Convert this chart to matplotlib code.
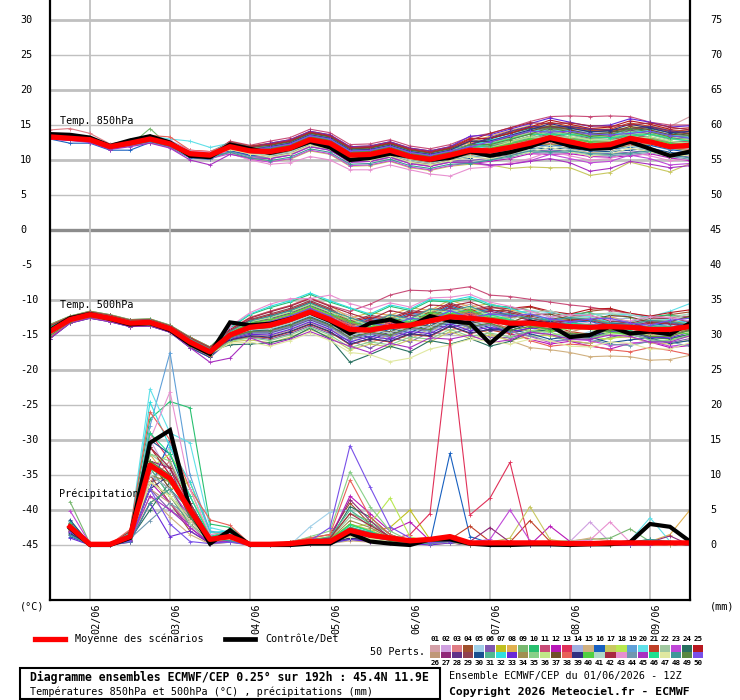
import matplotlib
matplotlib.use("Agg")
import matplotlib.pyplot as plt
from matplotlib.patches import Rectangle
from matplotlib.lines import Line2D

plt.rcParams['font.family'] = ['DejaVu Sans Mono', 'DejaVu Sans']

# ---------------- data ----------------
hours_temp = list(range(12, 205, 6))      # 01/06 12Z .. 09/06 12Z (hours from 01/06 00Z)
hours_rain = list(range(18, 205, 6))
day_hours = [24, 48, 72, 96, 120, 144, 168, 192]
day_labels = ['02/06', '03/06', '04/06', '05/06', '06/06', '07/06', '08/06', '09/06']

member_colors = ['#d4a0a8', '#d0a0e0', '#e07c84', '#a0502c', '#a0d0e8', '#8058b0', '#c0c020', '#e0b050',
                 '#78b870', '#28c070', '#c84c78', '#b818b8', '#e03058', '#a0b0e0', '#d0b080', '#1860c0',
                 '#c8c860', '#b8e850', '#60a0d8', '#60e0e8', '#c04028', '#a0c8a0', '#c048d8', '#287060',
                 '#b81820', '#c09878', '#902878', '#603088', '#904050', '#185090', '#50b890', '#30e0e0',
                 '#6828d8', '#a09050', '#88d088', '#c0e888', '#705028', '#e86058', '#303080', '#50d040',
                 '#b0d8c8', '#a82840', '#e890d0', '#7098b0', '#a830c0', '#20e090', '#e0e8a0', '#409898',
                 '#588840', '#7850e8']

t850_mean = [13.3, 13.1, 12.9, 11.9, 12.4, 13.0, 12.3, 10.9, 10.7, 11.9, 11.3, 11.2, 11.7, 12.9, 12.4, 10.7, 10.8,
             11.4, 10.5, 10.1, 10.7, 11.4, 11.3, 11.8, 12.4, 13.2, 12.6, 12.0, 12.2, 13.1, 12.6, 11.9, 12.1]
t850_ctrl = [13.7, 13.6, 13.2, 12.0, 12.8, 13.4, 12.5, 10.6, 10.4, 12.2, 11.6, 11.0, 11.6, 12.6, 11.8, 10.0, 10.3,
             10.9, 10.5, 10.0, 10.3, 11.2, 10.6, 11.1, 11.9, 12.9, 12.0, 11.6, 11.7, 12.6, 11.6, 10.6, 11.2]
t500_mean = [-14.5, -12.8, -12.1, -12.6, -13.3, -13.2, -14.1, -16.0, -17.4, -15.0, -13.9, -13.6, -12.8, -11.7,
             -12.8, -14.2, -14.3, -13.8, -13.6, -13.0, -12.4, -12.6, -12.9, -13.3, -13.3, -13.6, -13.8, -13.9,
             -13.8, -13.9, -14.2, -14.2, -13.8]
t500_ctrl = [-14.3, -12.6, -12.0, -12.7, -13.5, -13.3, -14.3, -16.3, -17.7, -13.2, -13.6, -13.4, -12.7, -11.8,
             -13.0, -14.8, -13.3, -12.8, -13.8, -12.3, -13.0, -13.3, -16.2, -13.8, -13.1, -13.6, -15.3, -15.0,
             -13.8, -14.8, -14.5, -14.9, -13.3]
rain_mean = [2.6, 0.1, 0.1, 1.2, 11.4, 9.5, 5.0, 0.8, 1.2, 0.1, 0.1, 0.2, 0.5, 0.5, 2.1, 1.4, 1.0, 0.6, 0.8,
             1.2, 0.3, 0.3, 0.3, 0.3, 0.3, 0.2, 0.2, 0.3, 0.3, 0.3, 0.3, 0.3]
rain_ctrl = [2.4, 0, 0, 1.0, 14.6, 16.4, 5.0, 0.2, 2.1, 0, 0, 0, 0.2, 0.2, 1.7, 0.5, 0.2, 0, 0.8,
             0.8, 0.2, 0, 0, 0.1, 0.1, 0, 0.1, 0.1, 0.4, 3.0, 2.6, 0.5]

t850_members = [
    [13.5,13.2,13.1,12.1,12.6,13.3,12.6,11.2,11.0, 12.3,11.7,11.7,12.2,13.4,12.9,11.2,11.3, 11.9,11.0,10.6,11.2,12.0,12.0,12.6,13.3, 14.2,13.6,13.0,13.2,14.1,13.6,14.8,16.2],
    [13.6,13.4,13.2,12.2,12.8,13.5,12.8,11.4,11.2, 12.2,11.6,11.4,11.9,13.1,12.6,10.9,11.0, 11.6,10.8,10.4,11.0, 11.5,12.2,13.0,13.7,13.6,13.7,13.3,13.2,13.4,13.7,13.1,12.7],
    [14.3,14.5,13.8,12.3,12.8,13.4,12.7,11.4,11.2, 12.5,12.0,12.0,12.5,13.7,13.2,11.5,11.6, 12.2,11.3,10.9,11.5,12.5,12.5,13.2,14.0, 14.7,14.1,13.5,13.7,14.6,14.1,13.4,13.6],
    [13.2,13.0,12.8,11.8,12.2,12.8,12.1,10.7,10.5, 12.1,11.5,11.8,12.3,13.5,13.0,11.3,11.4, 12.0,11.1,10.7,11.3, 12.2,13.1,14.0,14.7,14.6,14.7,14.3,14.2,14.4,14.7,14.1,13.7],
    [13.3,13.0,12.9,11.9,12.4,13.0,12.3,10.9,10.7, 11.8,11.1,10.9,11.4,12.6,12.1,10.4,10.5, 11.1,10.2,9.8,10.4,11.0,10.9,11.4,11.9, 12.7,12.1,11.5,11.7,12.6,12.1,11.4,11.6],
    [13.1,13.0,12.7,11.7,12.2,12.7,12.0,10.6,10.4, 11.4,10.7,10.4,10.9,12.1,11.6,9.9,10.0, 10.6,9.7,9.3,9.9, 9.9,10.3,10.7,11.4,11.3,11.4,11.0,10.9,11.1,11.4,10.8,10.4],
    [13.4,13.2,13.0,12.0,12.6,13.2,12.5,11.1,10.9, 12.2,11.6,11.6,12.1,13.3,12.8,11.1,11.2, 11.8,10.9,10.5,11.1,11.8,11.7,12.1,12.7, 13.5,12.9,12.3,12.5,13.4,12.9,12.2,12.4],
    [13.3,13.1,12.9,11.9,12.4,13.0,12.3,10.9,10.7, 12.4,11.8,12.2,12.7,13.9,13.4,11.7,11.8, 12.4,11.5,11.1,11.7, 12.5,13.4,14.2,14.9,14.8,14.9,14.5,14.4,14.6,14.9,14.3,13.9],
    [13.1,12.9,12.7,11.6,12.1,14.5,11.9,10.5,10.3, 11.4,10.8,10.7,11.2,12.4,11.9,10.2,10.3, 10.9,10.0,9.6,10.2,11.4,11.4,12.0,12.8, 13.7,13.1,12.5,12.7,13.6,13.1,12.4,12.6],
    [13.5,13.3,13.1,12.1,12.6,13.3,12.6,11.2,11.0, 12.5,11.9,12.1,12.6,13.8,13.3,11.6,11.7, 12.3,11.4,11.0,11.6, 12.0,12.8,13.4,14.1,14.0,14.1,13.7,13.6,13.8,14.1,13.5,13.1],
    [13.4,13.2,13.0,12.0,12.5,13.1,12.4,11.0,10.8, 12.7,12.1,12.7,13.2,14.4,13.9,12.2,12.3, 12.9,12.0,11.6,12.2,13.3,13.8,14.6,15.5, 16.2,16.3,16.2,16.3,16.2,15.4,15.0,15.0],
    [13.2,13.0,12.8,11.8,12.2,12.8,12.1,10.7,10.5, 11.3,10.6,10.2,10.7,11.9,11.4,9.7,9.8, 10.4,9.5,9.1,9.7, 9.5,9.8,10.2,10.9,10.8,10.9,10.5,10.4,10.6,10.9,10.3,9.9],
    [13.5,13.3,13.1,12.2,12.7,13.4,12.7,11.3,11.1, 12.2,11.6,11.5,12.0,13.2,12.7,11.0,11.1, 11.7,10.8,10.4,11.0,11.8,11.7,12.3,12.9, 13.8,13.2,12.6,12.8,13.7,13.2,12.5,12.7],
    [13.3,13.1,12.8,11.8,12.3,12.9,12.2,10.8,10.6, 11.9,11.3,11.3,11.8,13.0,12.5,10.8,10.9, 11.6,10.8,10.5,11.2, 11.7,12.6,13.6,14.3,14.2,14.3,13.9,13.8,14.0,14.3,13.7,13.3],
    [13.4,13.2,13.0,12.0,12.6,13.2,12.5,11.1,10.9, 11.9,11.2,11.0,11.5,12.7,12.2,10.5,10.6, 11.2,10.3,9.9,10.5,10.8,10.6,10.9,11.4, 12.2,11.6,11.0,11.2,12.1,11.6,10.9,11.1],
    [13.0,12.4,12.4,11.4,11.4,12.5,11.8,10.3,10.1, 11.3,10.7,10.6,11.1,12.3,11.8,10.1,10.2, 10.8,9.9,9.5,10.1, 10.3,10.8,11.4,12.1,12.0,12.1,11.7,11.6,11.8,12.1,11.5,11.1],
    [13.1,12.9,12.7,11.7,12.2,12.7,12.0,10.6,10.4, 11.0,10.2,9.8,10.1,11.3,10.8,9.1,9.2, 9.8,8.9,8.5,9.1,9.4,9.3,8.8,9.0, 8.9,8.9,7.8,8.2,9.7,9.0,8.3,9.5],
    [13.4,13.2,13.0,12.0,12.6,13.2,12.5,11.1,10.9, 12.2,11.7,11.7,12.2,13.4,12.9,11.2,11.3, 11.9,11.0,10.6,11.2, 11.7,12.4,13.1,13.8,13.7,13.8,13.4,13.3,13.5,13.8,13.2,12.8],
    [13.2,13.0,12.8,11.8,12.2,12.8,12.1,10.7,10.5, 11.9,11.3,11.4,11.9,13.1,12.6,10.9,11.0, 11.6,10.7,10.3,10.9,11.4,11.3,11.7,12.2, 12.9,12.3,11.7,11.9,12.8,12.3,11.6,11.8],
    [13.4,13.2,13.1,12.2,12.7,13.4,13.0,12.7,11.8, 12.4,11.8,11.8,12.3,13.5,13.0,11.3,11.4, 12.0,11.1,10.7,11.3, 11.5,12.0,12.6,13.3,13.2,13.3,12.9,12.8,13.0,13.3,12.7,12.3],
    [13.5,13.3,13.1,12.1,12.6,13.3,12.6,11.2,11.0, 12.6,12.0,12.4,12.9,14.1,13.6,11.9,12.0, 12.6,11.7,11.3,11.9,13.1,13.1,13.8,14.6, 15.4,14.8,14.2,14.4,15.3,14.8,14.1,14.3],
    [13.2,13.0,12.8,11.8,12.2,12.8,12.1,10.7,10.5, 11.8,11.2,11.2,11.7,12.9,12.4,10.7,10.8, 11.4,10.5,10.1,10.7, 11.5,12.4,13.2,13.9,13.8,13.9,13.5,13.4,13.6,13.9,13.3,12.9],
    [13.0,12.8,12.6,11.6,12.0,12.5,11.8,10.4,10.2, 10.9,10.1,9.7,10.2,11.4,10.9,9.2,9.3, 9.9,9.0,8.6,9.2,9.6,9.2,9.4,9.9, 10.8,10.2,9.6,9.8,10.7,10.2,9.3,9.5],
    [13.4,13.2,13.0,12.0,12.5,13.1,12.4,11.0,10.8, 12.3,11.7,11.9,12.4,13.6,13.1,11.4,11.5, 12.1,11.2,10.8,11.4, 12.2,13.0,13.8,14.5,14.4,14.5,14.1,14.0,14.2,14.5,13.9,13.5],
    [13.4,13.2,13.0,12.0,12.6,13.2,12.5,11.1,10.9, 12.5,11.9,12.2,12.7,13.9,13.4,11.7,11.8, 12.4,11.5,11.1,11.7,13.0,13.1,13.8,14.7, 15.7,15.1,14.5,14.7,15.6,15.1,14.4,14.6],
    [13.2,13.1,12.8,11.8,12.3,12.9,12.2,10.8,10.6, 11.7,11.0,10.8,11.3,12.5,12.0,10.3,10.4, 11.0,10.1,9.7,10.3, 10.9,11.6,12.4,13.1,13.0,13.1,12.7,12.6,12.8,13.1,12.5,12.1],
    [13.5,13.3,13.1,12.1,12.6,13.3,12.6,11.2,11.0, 12.2,11.6,11.5,12.0,13.2,12.7,11.0,11.1, 11.7,10.8,10.4,11.0,11.9,12.0,12.6,13.4, 14.3,13.7,13.1,13.3,14.2,13.7,13.0,13.2],
    [13.1,13.0,12.7,11.7,12.2,12.7,12.0,10.6,10.4, 12.0,11.4,11.7,12.2,13.4,12.9,11.2,11.3, 11.9,11.0,10.6,11.2, 12.2,13.2,14.1,14.8,14.7,14.8,14.4,14.3,14.5,14.8,14.2,13.8],
    [13.3,13.1,12.9,11.9,12.4,13.0,12.3,10.9,10.7, 11.5,10.9,10.5,11.0,12.2,11.7,10.0,10.1, 10.7,9.8,9.4,10.0,10.9,10.9,11.5,12.2, 13.0,12.4,11.8,12.0,12.9,12.4,11.7,11.9],
    [13.1,12.9,12.7,11.6,12.1,12.6,11.9,10.5,10.3, 11.6,11.0,11.0,11.5,12.7,12.2,10.5,10.6, 11.2,10.3,9.9,10.5, 10.3,10.6,11.0,11.7,11.6,11.7,11.3,11.2,11.4,11.7,11.1,10.7],
    [13.4,13.2,13.0,12.0,12.6,13.2,12.5,11.1,10.9, 12.2,11.6,11.6,12.1,13.3,12.8,11.1,11.2, 11.8,10.9,10.5,11.1,12.0,11.9,12.5,13.1, 13.9,13.3,12.7,12.9,13.8,13.3,12.6,12.8],
    [13.5,13.3,13.1,12.2,12.7,13.4,12.7,11.3,11.1, 12.5,11.9,12.0,12.5,13.7,13.2,11.5,11.6, 12.2,11.3,10.9,11.5, 12.0,12.8,13.5,14.2,14.1,14.2,13.8,13.7,13.9,14.2,13.6,13.2],
    [13.2,13.0,12.8,11.8,12.2,12.8,12.1,10.7,10.5, 12.4,11.8,12.4,12.9,14.1,13.6,11.9,12.0, 12.6,11.7,11.3,11.9,13.4,13.6,14.4,15.2, 16.0,15.4,14.8,15.0,15.9,15.4,14.7,14.9],
    [13.3,13.1,12.9,11.9,12.4,13.0,12.3,10.9,10.7, 11.8,11.2,11.1,11.6,12.8,12.3,10.6,10.7, 11.3,10.4,10.0,10.6, 10.6,11.1,11.6,12.3,12.2,12.3,11.9,11.8,12.0,12.3,11.7,11.3],
    [13.5,13.3,13.1,12.1,12.6,13.3,12.6,11.2,11.0, 12.3,11.7,11.8,12.3,13.5,13.0,11.3,11.4, 12.0,11.1,10.7,11.3,12.2,12.1,12.7,13.4, 14.2,13.6,13.0,13.2,14.1,13.6,12.9,13.1],
    [13.3,13.0,12.8,11.8,12.3,12.9,12.2,10.8,10.6, 11.7,11.1,10.9,11.4,12.6,12.1,10.4,10.5, 11.1,10.2,9.8,10.4, 11.0,11.7,12.6,13.3,13.2,13.3,12.9,12.8,13.0,13.3,12.7,12.3],
    [13.4,13.2,13.0,12.0,12.5,13.1,12.4,11.0,10.8, 12.4,11.8,12.1,12.6,13.8,13.3,11.6,11.7, 12.3,11.4,11.0,11.6,12.7,12.6,13.3,14.1, 14.9,14.3,13.7,13.9,14.8,14.3,13.6,13.8],
    [13.6,13.4,13.2,12.2,12.8,13.5,13.3,11.4,11.2, 12.2,11.5,11.3,11.8,13.0,12.5,10.8,10.9, 11.5,10.6,10.2,10.8, 10.9,11.4,11.8,12.5,12.4,12.5,12.1,12.0,12.2,12.5,11.9,11.5],
    [13.1,13.0,12.7,11.7,12.2,12.7,12.0,10.6,10.4, 12.1,11.5,11.9,12.4,13.6,13.1,11.4,11.5, 12.1,11.2,10.8,11.4,12.7,12.7,13.5,14.3, 15.2,14.6,14.0,14.2,15.1,14.6,13.9,14.1],
    [13.4,13.2,13.0,12.0,12.6,13.2,12.5,11.1,10.9, 12.1,11.5,11.4,11.9,13.1,12.6,10.9,11.0, 11.6,10.7,10.3,10.9, 11.2,11.7,12.3,13.0,12.9,13.0,12.6,12.5,12.7,13.0,12.4,12.0],
    [13.2,13.0,12.8,11.8,12.2,12.8,12.1,10.7,10.5, 11.5,10.9,10.6,11.1,12.3,11.8,10.1,10.2, 10.8,9.9,9.5,10.1,10.6,10.5,10.9,11.4, 12.1,11.5,10.9,11.1,12.0,11.5,10.8,11.0],
    [13.4,13.2,13.0,12.0,12.5,13.1,12.4,11.0,10.8, 12.5,11.9,12.3,12.8,14.0,13.5,11.8,11.9, 12.5,11.6,11.2,11.8, 12.8,13.8,14.6,15.3,15.2,15.3,14.9,14.8,15.0,15.3,14.7,14.3],
    [13.5,13.3,13.1,12.2,12.7,13.4,12.7,11.3,11.1, 11.0,10.0,9.4,9.6,10.5,10.0,8.6,8.6, 9.3,8.6,8.0,7.7,8.8,9.0,9.6,10.2, 11.2,10.6,10.0,10.2,11.1,10.6,9.9,10.1],
    [13.1,12.9,12.6,11.6,12.0,12.5,11.8,10.4,10.2, 11.2,10.5,10.3,10.8,12.0,11.5,9.8,9.9, 10.5,9.6,9.2,9.8, 9.6,10.0,10.4,11.1,11.0,11.1,10.7,10.6,10.8,11.1,10.5,10.1],
    [13.0,12.8,12.5,11.5,11.9,12.4,11.7,10.0,9.3, 10.8,10.3,10.2,10.7,11.9,11.4,9.7,9.8, 10.4,9.5,9.1,9.7,9.7,9.3,9.4,9.8, 10.2,9.6,8.4,8.8,9.8,9.4,8.9,9.2],
    [13.4,13.2,13.0,12.0,12.6,13.2,12.5,11.1,10.9, 12.1,11.5,11.5,12.0,13.2,12.7,11.0,11.1, 11.7,10.8,10.4,11.0, 11.6,12.3,13.0,13.7,13.6,13.7,13.3,13.2,13.4,13.7,13.1,12.7],
    [13.3,13.1,12.9,11.9,12.4,13.0,12.3,10.9,10.7, 11.5,10.9,10.4,10.9,12.1,11.6,9.9,10.0, 10.6,9.7,9.3,9.9,10.4,10.2,10.6,11.1, 11.8,11.2,10.6,10.8,11.7,11.2,10.5,10.7],
    [13.1,13.0,12.7,11.7,12.2,12.7,12.0,10.6,10.4, 11.1,10.3,9.9,10.4,11.6,11.1,9.4,9.5, 10.1,9.2,8.8,9.4, 9.5,10.0,10.6,11.3,11.2,11.3,10.9,10.8,11.0,11.3,10.7,10.3],
    [13.4,13.2,13.0,12.0,12.5,13.1,12.4,11.0,10.8, 12.1,11.5,11.6,12.1,13.3,12.8,11.1,11.2, 11.8,10.9,10.5,11.1,12.2,12.2,12.9,13.7, 14.6,14.0,13.4,13.6,14.5,14.0,13.3,13.5],
    [13.2,13.1,12.8,11.8,12.3,12.9,12.2,10.8,10.6, 12.1,11.5,11.8,12.3,13.5,13.0,11.3,11.4, 12.0,11.1,10.7,11.3, 11.9,12.6,13.4,14.1,14.0,14.1,13.7,13.6,13.8,14.1,13.5,13.1],
]

t500_members = [
    [-14.1,-12.6,-11.9,-12.4,-13.1,-13.0,-13.9,-15.7,-17.1, -14.4,-12.8,-12.1,-11.3,-10.2,-11.3, -12.2,-13.3,-12.0,-12.6,-11.2,-11.3,-10.6,-11.9, -12.0,-12.9,-13.8,-13.0,-12.6,-13.5,-14.2,-13.4,-13.0,-13.6],
    [-15.1,-13.1,-12.4,-12.9,-13.6,-13.5,-14.4,-16.5,-17.9, -14.7,-13.3,-12.8,-12.0,-10.9,-12.0, -13.8,-13.0,-12.5,-13.3,-12.0,-11.2,-12.2,-11.6, -12.6,-11.8,-12.0,-12.9,-13.3,-12.5,-12.1,-12.8,-13.4,-12.9],
    [-13.7,-12.4,-11.7,-12.2,-12.9,-12.8,-13.7,-15.4,-16.8, -15.2,-14.3,-14.1,-13.3,-12.2,-13.3, -14.3,-15.3,-14.6,-13.7,-13.9,-12.5,-13.5,-13.0, -13.0,-13.6,-12.7,-12.9,-14.0,-14.3,-13.6,-13.2,-13.9,-14.4],
    [-14.9,-13.0,-12.3,-12.8,-13.5,-13.4,-14.3,-16.3,-17.7, -14.6,-13.2,-12.6,-11.8,-10.7,-11.8, -13.6,-12.8,-13.2,-12.1,-12.4,-11.0,-11.9,-11.5, -11.5,-11.0,-11.8,-12.4,-11.6,-11.3,-12.0,-12.6,-12.1,-11.7],
    [-14.3,-12.7,-12.0,-12.5,-13.2,-13.1,-14.0,-15.9,-17.3, -15.5,-14.7,-14.8,-14.0,-12.9,-14.0, -15.9,-15.0,-15.4,-14.3,-14.6,-13.2,-14.3,-13.7, -14.6,-14.0,-14.9,-15.3,-14.5,-14.2,-15.0,-15.5,-14.8,-14.4],
    [-15.5,-13.3,-12.6,-13.1,-13.8,-13.7,-14.6,-16.8,-18.2, -15.8,-15.3,-15.6,-14.8,-13.7,-14.8, -15.8,-16.9,-15.4,-16.0,-14.6,-14.9,-14.0,-15.3, -15.4,-14.6,-15.0,-15.9,-16.2,-15.3,-14.9,-15.6,-16.1,-15.5],
    [-13.9,-12.5,-11.8,-12.3,-13.0,-12.9,-13.8,-15.6,-17.0, -14.8,-13.6,-13.2,-12.4,-11.3,-12.4, -14.2,-13.5,-13.8,-12.6,-12.9,-11.6,-12.6,-12.1, -13.0,-13.9,-14.6,-14.0,-13.6,-14.5,-15.0,-14.3,-14.0,-14.6],
    [-14.5,-12.8,-12.1,-12.6,-13.3,-13.2,-14.1,-16.0,-17.4, -14.2,-12.5,-11.6,-10.8,-9.7,-10.8, -12.6,-11.8,-12.2,-11.1,-11.5,-10.0,-11.0,-10.5, -11.4,-12.0,-12.9,-13.3,-12.6,-12.4,-13.1,-13.6,-12.9,-12.5],
    [-15.3,-13.2,-12.5,-13.0,-13.7,-13.6,-14.5,-16.6,-18.0, -14.8,-13.6,-13.1,-12.3,-11.2,-12.3, -13.3,-14.2,-12.9,-13.5,-12.1,-12.3,-11.7,-12.8, -13.8,-14.5,-14.2,-15.0,-15.4,-14.7,-14.4,-15.3,-15.6,-14.9],
    [-13.5,-12.3,-11.6,-12.1,-12.8,-12.7,-13.6,-15.3,-16.7, -14.0,-12.1,-11.1,-10.3,-9.2,-10.3, -11.2,-12.2,-10.9,-11.5,-10.1,-10.3,-9.8,-10.8, -11.0,-11.5,-12.4,-12.0,-11.8,-12.7,-13.1,-12.4,-12.1,-12.6],
    [-14.1,-12.6,-11.9,-12.4,-13.1,-13.0,-13.9,-15.7,-17.1, -14.2,-12.5,-11.6,-10.8,-9.7,-10.8, -11.6,-10.6,-9.3,-8.6,-8.7,-8.5,-8.1,-9.3, -9.5,-9.9,-10.3,-10.7,-11.0,-11.5,-11.9,-12.4,-12.5,-12.3],
    [-14.9,-13.0,-12.3,-12.8,-13.5,-13.4,-14.3,-16.3,-17.7, -15.4,-14.6,-14.6,-13.8,-12.7,-13.8, -15.6,-14.8,-15.3,-14.1,-14.4,-12.9,-14.0,-13.5, -14.8,-15.6,-16.3,-15.9,-16.6,-17.0,-16.2,-16.0,-16.8,-16.5],
    [-13.9,-12.5,-11.8,-12.3,-13.0,-12.9,-13.8,-15.6,-17.0, -14.9,-13.8,-13.4,-12.6,-11.5,-12.6, -13.6,-14.5,-13.2,-13.9,-12.4,-12.6,-12.0,-13.1, -13.5,-13.0,-13.4,-14.1,-13.8,-13.3,-14.0,-14.5,-14.0,-13.6],
    [-14.7,-12.9,-12.2,-12.7,-13.4,-13.3,-14.2,-16.2,-17.6, -15.2,-14.3,-14.2,-13.4,-12.3,-13.4, -15.2,-14.4,-14.8,-13.7,-14.0,-12.6,-13.6,-13.1, -13.5,-12.7,-12.4,-13.2,-13.6,-12.8,-12.6,-13.3,-13.8,-13.2],
    [-14.1,-12.6,-11.9,-12.4,-13.1,-13.0,-13.9,-15.7,-17.1, -15.6,-14.9,-15.1,-14.3,-13.2,-14.3, -15.3,-16.2,-14.9,-15.6,-14.1,-14.3,-13.7,-14.8, -15.8,-16.8,-17.1,-17.5,-18.1,-18.0,-18.1,-18.6,-18.5,-17.9],
    [-15.1,-13.1,-12.4,-12.9,-13.6,-13.5,-14.4,-16.5,-17.9, -14.5,-13.1,-12.4,-11.6,-10.5,-11.6, -13.4,-12.6,-13.0,-11.9,-12.2,-10.8,-11.8,-11.3, -12.2,-12.8,-13.6,-13.2,-13.0,-13.9,-14.2,-13.7,-13.3,-13.8],
    [-14.5,-12.8,-12.1,-12.6,-13.3,-13.2,-14.1,-16.0,-17.4, -16.0,-15.7,-16.1,-15.3,-14.2,-15.3, -17.1,-16.3,-16.7,-15.7,-16.0,-14.5,-15.5,-15.0, -15.8,-15.2,-15.0,-15.8,-16.2,-15.4,-15.3,-16.1,-16.3,-15.7],
    [-13.7,-12.4,-11.7,-12.2,-12.9,-12.8,-13.7,-15.4,-16.8, -14.7,-13.4,-12.9,-12.1,-11.0,-12.1, -13.0,-14.0,-12.7,-13.3,-11.9,-12.1,-11.5,-12.6, -13.2,-14.3,-15.1,-14.6,-15.3,-15.6,-14.8,-14.9,-15.7,-15.2],
    [-14.9,-13.0,-12.3,-12.8,-13.5,-13.4,-14.3,-16.3,-17.7, -15.1,-14.1,-13.9,-13.1,-12.0,-13.1, -14.9,-14.1,-14.5,-13.4,-13.7,-12.3,-13.3,-12.8, -13.7,-13.0,-12.6,-13.4,-13.7,-12.9,-13.2,-13.9,-13.5,-12.9],
    [-13.9,-12.5,-11.8,-12.3,-13.0,-12.9,-13.8,-15.6,-17.0, -14.6,-13.2,-12.6,-11.8,-10.7,-11.8, -12.8,-13.7,-12.4,-13.0,-11.6,-11.8,-11.2,-12.3, -11.9,-11.5,-11.8,-12.0,-12.1,-12.0,-12.1,-12.4,-11.6,-10.5],
    [-15.1,-13.1,-12.4,-12.9,-13.6,-13.5,-14.4,-16.5,-17.9, -15.7,-15.2,-15.4,-14.6,-13.5,-14.6, -16.4,-15.6,-16.0,-14.9,-15.2,-13.8,-14.8,-14.3, -14.8,-14.0,-13.6,-14.5,-14.9,-14.1,-14.0,-14.8,-15.0,-14.2],
    [-14.1,-12.6,-11.9,-12.4,-13.1,-13.0,-13.9,-15.7,-17.1, -14.9,-13.7,-13.3,-12.5,-11.4,-12.5, -13.5,-14.5,-13.1,-13.7,-12.3,-12.5,-11.9,-13.0, -12.0,-11.6,-12.3,-12.7,-12.0,-11.9,-12.6,-13.0,-12.4,-12.0],
    [-15.3,-13.2,-12.5,-13.0,-13.7,-13.6,-14.5,-16.6,-18.0, -15.4,-14.5,-14.5,-13.7,-12.6,-13.7, -15.5,-14.7,-15.1,-14.0,-14.3,-12.9,-13.9,-13.4, -14.5,-15.2,-16.1,-15.6,-15.8,-16.5,-16.2,-15.9,-16.6,-16.3],
    [-14.3,-12.7,-12.0,-12.5,-13.2,-13.1,-14.0,-15.9,-17.3, -16.4,-16.3,-16.1,-15.5,-14.0,-15.5, -18.9,-17.8,-16.6,-17.4,-15.8,-16.3,-15.5,-16.6, -15.9,-14.6,-14.2,-15.0,-15.3,-14.5,-14.6,-15.4,-15.5,-14.9],
    [-14.5,-12.8,-12.1,-12.6,-13.3,-13.2,-14.1,-16.0,-17.4, -14.4,-12.9,-12.2,-11.4,-10.3,-11.4, -13.2,-12.4,-12.8,-11.7,-12.0,-10.6,-11.6,-11.1, -11.2,-10.9,-11.6,-12.0,-11.3,-11.2,-11.9,-12.3,-11.8,-11.4],
    [-13.9,-12.5,-11.8,-12.3,-13.0,-12.9,-13.8,-15.6,-17.0, -15.1,-14.0,-13.8,-13.0,-11.9,-13.0, -14.0,-14.9,-13.6,-14.2,-12.8,-13.0,-12.4,-13.5, -13.9,-13.4,-14.2,-14.6,-13.8,-13.7,-14.5,-14.9,-14.2,-13.8],
    [-14.9,-13.0,-12.3,-12.8,-13.5,-13.4,-14.3,-16.3,-17.7, -14.6,-13.3,-12.7,-11.9,-10.8,-11.9, -13.7,-12.9,-13.3,-12.2,-12.5,-11.1,-12.1,-11.6, -12.2,-12.9,-13.3,-12.8,-12.7,-13.5,-13.8,-13.1,-13.2,-13.6],
    [-13.7,-12.4,-11.7,-12.2,-12.9,-12.8,-13.7,-15.4,-16.8, -15.4,-14.7,-14.7,-13.9,-12.8,-13.9, -14.9,-15.8,-14.5,-15.1,-13.7,-13.9,-13.3,-14.4, -14.0,-13.2,-12.8,-13.6,-13.9,-13.1,-13.2,-14.1,-14.0,-13.2],
    [-14.7,-12.9,-12.2,-12.7,-13.4,-13.3,-14.2,-16.2,-17.6, -14.4,-12.8,-12.0,-11.2,-10.1,-11.2, -13.0,-12.2,-12.6,-11.5,-11.8,-10.4,-11.4,-10.9, -11.6,-12.3,-12.8,-12.3,-12.2,-13.0,-13.3,-12.7,-12.6,-13.1],
    [-15.5,-13.3,-12.6,-13.1,-13.8,-13.7,-14.6,-16.8,-18.2, -15.3,-14.4,-14.3,-13.5,-12.4,-13.5, -14.5,-15.4,-14.1,-14.7,-13.3,-13.5,-12.9,-14.0, -14.2,-14.8,-15.6,-15.2,-15.3,-16.1,-15.7,-15.4,-16.2,-15.8],
    [-14.1,-12.6,-11.9,-12.4,-13.1,-13.0,-13.9,-15.7,-17.1, -15.0,-13.8,-13.5,-12.7,-11.6,-12.7, -14.5,-13.7,-14.1,-13.0,-13.3,-11.9,-12.9,-12.4, -13.0,-13.7,-14.2,-13.8,-13.7,-14.4,-14.6,-14.0,-14.1,-14.6],
    [-15.1,-13.1,-12.4,-12.9,-13.6,-13.5,-14.4,-16.5,-17.9, -13.9,-12.0,-10.9,-10.1,-9.0,-10.1, -11.1,-12.0,-10.7,-11.3,-9.9,-10.1,-9.5,-10.6, -11.2,-12.0,-12.9,-12.5,-12.4,-13.2,-13.5,-12.9,-12.8,-13.4],
    [-14.3,-12.7,-12.0,-12.5,-13.2,-13.1,-14.0,-15.9,-17.3, -15.6,-14.9,-15.0,-14.2,-13.1,-14.2, -16.0,-15.2,-15.6,-14.5,-14.8,-13.4,-14.4,-13.9, -14.6,-14.0,-14.2,-15.0,-15.1,-14.4,-14.5,-15.3,-15.4,-14.6],
    [-13.5,-12.3,-11.6,-12.1,-12.8,-12.7,-13.6,-15.3,-16.7, -14.8,-13.5,-13.0,-12.2,-11.1,-12.2, -13.2,-14.1,-12.8,-13.4,-12.0,-12.2,-11.6,-12.7, -12.4,-12.6,-13.1,-12.7,-12.6,-13.3,-13.5,-12.9,-13.0,-13.5],
    [-14.9,-13.0,-12.3,-12.8,-13.5,-13.4,-14.3,-16.3,-17.7, -15.9,-15.4,-15.8,-15.0,-13.9,-15.0, -16.8,-16.0,-16.4,-15.3,-15.6,-14.2,-15.2,-14.7, -15.3,-14.4,-14.6,-15.4,-15.5,-14.8,-14.9,-15.7,-15.8,-15.0],
    [-14.5,-12.8,-12.1,-12.6,-13.3,-13.2,-14.1,-16.0,-17.4, -14.6,-13.1,-12.5,-11.7,-10.6,-11.7, -12.7,-13.6,-12.3,-12.9,-11.5,-11.7,-11.1,-12.2, -12.7,-13.7,-14.4,-14.1,-14.2,-14.8,-14.7,-14.5,-15.1,-14.6],
    [-13.9,-12.5,-11.8,-12.3,-13.0,-12.9,-13.8,-15.6,-17.0, -15.2,-14.2,-14.0,-13.2,-12.1,-13.2, -15.0,-14.2,-14.6,-13.5,-13.8,-12.4,-13.4,-12.9, -13.2,-12.2,-12.0,-12.8,-12.9,-12.2,-12.4,-13.2,-13.1,-12.3],
    [-15.3,-13.2,-12.5,-13.0,-13.7,-13.6,-14.5,-16.6,-18.0, -14.9,-13.7,-13.3,-12.5,-11.4,-12.5, -13.5,-14.4,-13.1,-13.7,-12.3,-12.5,-11.9,-13.0, -14.2,-15.8,-16.6,-16.3,-16.5,-17.1,-17.4,-16.8,-17.2,-17.8],
    [-14.1,-12.6,-11.9,-12.4,-13.1,-13.0,-13.9,-15.7,-17.1, -15.7,-15.1,-15.3,-14.5,-13.4,-14.5, -16.3,-15.5,-15.9,-14.8,-15.1,-13.7,-14.7,-14.2, -14.4,-13.4,-13.0,-13.9,-14.1,-13.3,-13.5,-14.3,-14.4,-13.4],
    [-14.3,-12.7,-12.0,-12.5,-13.2,-13.1,-14.0,-15.9,-17.3, -14.7,-13.3,-12.8,-12.0,-10.9,-12.0, -13.0,-13.9,-12.6,-13.2,-11.8,-12.0,-11.4,-12.5, -12.8,-13.5,-14.4,-14.0,-14.0,-14.6,-14.9,-14.3,-14.4,-14.9],
    [-15.1,-13.1,-12.4,-12.9,-13.6,-13.5,-14.4,-16.5,-17.9, -15.2,-14.3,-14.1,-13.3,-12.2,-13.3, -15.1,-14.3,-14.7,-13.6,-13.9,-12.5,-13.5,-13.0, -12.9,-11.8,-11.5,-12.4,-12.6,-11.8,-12.0,-12.8,-12.9,-11.9],
    [-13.7,-12.4,-11.7,-12.2,-12.9,-12.8,-13.7,-15.4,-16.8, -14.2,-12.6,-11.7,-10.9,-9.8,-10.9, -11.9,-12.8,-11.5,-12.1,-10.7,-10.9,-10.3,-11.4, -11.8,-12.5,-13.3,-12.9,-12.9,-13.6,-13.9,-13.3,-13.4,-13.9],
    [-14.7,-12.9,-12.2,-12.7,-13.4,-13.3,-14.2,-16.2,-17.6, -13.8,-11.8,-10.6,-9.8,-9.8,-9.3, -10.5,-11.3,-10.4,-11.0,-9.7,-9.6,-9.2,-10.3, -10.9,-11.6,-12.4,-12.1,-12.2,-12.8,-13.0,-12.4,-12.5,-13.0],
    [-14.1,-12.6,-11.9,-12.4,-13.1,-13.0,-13.9,-15.7,-17.1, -15.4,-14.6,-14.6,-13.8,-12.7,-13.8, -15.6,-14.8,-15.2,-14.1,-14.4,-13.0,-14.0,-13.5, -14.5,-15.1,-15.9,-15.6,-15.6,-16.3,-16.5,-15.9,-16.0,-16.6],
    [-15.5,-13.3,-12.6,-13.1,-13.8,-13.7,-14.6,-16.8,-18.9, -18.3,-15.4,-16.4,-15.6,-14.5,-15.6, -16.6,-17.5,-16.2,-16.8,-15.4,-15.6,-15.0,-16.1, -15.7,-14.6,-14.9,-15.6,-15.6,-15.0,-15.2,-16.0,-16.0,-15.1],
    [-13.9,-12.5,-11.8,-12.3,-13.0,-12.9,-13.8,-15.6,-17.0, -14.8,-13.6,-13.2,-12.4,-11.3,-12.4, -14.2,-13.4,-13.8,-12.7,-13.0,-11.6,-12.6,-12.1, -12.8,-13.4,-13.7,-13.3,-13.5,-14.1,-14.3,-13.7,-13.8,-14.3],
    [-14.9,-13.0,-12.3,-12.8,-13.5,-13.4,-14.3,-16.3,-17.7, -16.2,-16.0,-16.6,-15.8,-14.7,-15.8, -17.5,-17.8,-18.8,-18.3,-17.0,-16.4,-15.6,-15.9, -16.3,-15.6,-15.8,-16.6,-16.7,-16.0,-16.2,-17.0,-17.0,-16.1],
    [-14.3,-12.7,-12.0,-12.5,-13.2,-13.1,-14.0,-15.9,-17.3, -14.5,-13.0,-12.3,-11.5,-10.4,-11.5, -12.5,-13.4,-12.1,-12.7,-11.3,-11.5,-10.9,-12.0, -12.0,-12.6,-12.9,-12.5,-12.8,-13.4,-13.5,-12.9,-13.1,-13.6],
    [-15.1,-13.1,-12.4,-12.9,-13.6,-13.5,-14.4,-16.5,-17.9, -15.3,-14.5,-14.4,-13.6,-12.5,-13.6, -15.4,-14.6,-15.0,-13.9,-14.2,-12.8,-13.8,-13.3, -14.3,-13.8,-14.1,-14.8,-14.9,-14.3,-14.5,-15.2,-15.2,-14.3],
    [-14.1,-12.6,-11.9,-12.4,-13.1,-13.0,-13.9,-15.7,-17.1, -14.8,-13.6,-13.1,-12.3,-11.2,-12.3, -14.1,-13.3,-13.7,-12.6,-12.9,-11.5,-12.5,-12.0, -12.3,-12.0,-12.7,-13.1,-12.7,-12.6,-13.3,-13.6,-12.9,-12.6],
]

rain_members = [
    [2.5,.2,0,1.0,12,8,4,.5,1.0, 0,0,.2, .5,.3,1.5,1.0,.6,.3,.5, .4,.2,0,.3,0, .5,0,.2,0,0,.4,.2,0],
    [3.0,.1,.1,1.5,15,10,6,1.0,1.5, 0,0,0, .8,.6,3.0,2.0,1.0,.5,.3, .6,0,.2,0,0, .3,.5,3.3,.4,0,.2,.3,0],
    [2.0,0,0,.8,9,12,3,.3,.8, .1,0,.3, .4,.2,.8,.5,.4,.2,.6, .3,0,0,.2,0, 0,.2,0,.3,0,0,.5,.2],
    [3.5,.2,.1,1.2,10,6,2,.2,1.2, 0,0,.5, 1.0,1.5,6.0,3.0,1.2,.8,.4, 1.0,.3,.5,0,.2, 0,0,.3,0,.2,.4,0,.3],
    [1.8,.1,0,.5,14,11,7,1.5,2.0, .2,0,0, 2.6,4.7,5.0,2.5,1.0,.6,.3, .8,.2,0,.4,0, 0,.3,0,0,.5,.3,.6,0],
    [2.6,0,0,1.8,8,5,3,.4,.6, 0,.1,0, .3,.5,2.0,1.5,.8,.4,.2, .5,0,.3,0,0, .2,0,0,.4,0,0,.3,.2],
    [2.2,.2,0,.6,6,8,9,2.0,1.0, 0,0,.2, .5,.4,1.2,2.0,2.5,5.0,.8, .4,.3,0,.2,.5, .4,0,0,.2,0,.2,.4,0],
    [3.1,.1,.2,1.4,13,9,5,.8,1.5, 0,0,0, .2,.3,1.0,.8,.5,.3,.2, .6,.2,0,0,.3, 0,.2,0,0,.3,.5,1.5,5.0],
    [6.2,.2,0,1.0,11,7,3,.6,1.0, .1,0,.4, .6,.8,4.5,3.5,1.5,.6,.5, .4,0,.2,.3,0, .5,.6,.8,1.0,2.3,.5,.3,0],
    [2.4,.1,.1,2.0,18,20.5,19.6,3.0,2.5, .2,0,0, .4,.3,2.5,1.8,1.0,.4,.3, .7,.3,0,.2,0, 0,.3,0,0,.2,.4,.3,0],
    [2.8,0,0,1.1,12,10,4,.7,1.3, 0,.1,.2, .3,.5,1.8,1.2,.6,.3,.4, .5,0,.3,0,.2, 0,0,.4,0,0,.3,.2,.3],
    [1.5,.2,0,.9,9,6,2.5,.2,.5, 0,0,0, .5,1.0,7.0,4.5,2.0,3.3,.6, 1.0,.5,.4,.3,0, 2.7,.5,.3,0,.2,.6,.4,0],
    [2.0,.1,0,1.6,16,12,5,1.0,2.2, 0,0,.3, .2,.4,1.2,1.0,.8,1.5,4.5, 29.3,4.3,6.7,11.8,0, .3,0,.2,0,0,.3,0,.2],
    [3.3,.2,.1,1.3,10,14,7,1.2,1.6, .1,0,0, .6,.5,2.2,1.5,.7,.3,.2, .6,.2,0,0,.3, .2,0,0,.3,.4,.2,.3,0],
    [2.1,0,0,.4,7,4,1.5,.1,.4, 0,0,.2, .3,.2,.6,.4,.3,.2,0, .3,0,.2,0,0, .2,.5,1.0,.6,.3,0,.2,.4],
    [1.2,.1,0,.7,8,15,6,.5,1.0, 0,0,0, .4,.6,1.5,1.0,.6,.4,.3, 13.1,1.2,.3,0,.2, 0,0,.3,0,.2,.5,.3,0],
    [2.9,.2,0,1.2,12,9,4.5,.8,1.4, 0,.2,.3, .2,.3,3.0,2.2,.9,.5,.3, .6,.3,.4,1.0,5.5, .8,.3,0,.2,0,.3,.5,.2],
    [2.3,0,.1,1.5,11,13,8,1.0,2.0, 0,0,.2, .8,1.2,2.5,3.0,6.7,1.2,.3, .5,.2,0,.3,0, .2,.4,0,0,.3,.2,0,.3],
    [2.7,.1,0,1.0,17,27.5,10,2.0,1.5, .1,0,0, .3,.2,.8,.6,.4,.2,.3, .5,0,.2,0,0, .3,0,.2,.5,.4,.6,.3,0],
    [3.4,.2,.1,1.8,22.3,16,14.6,2.5,1.8, 0,0,.3, .5,.7,2.0,1.2,.6,.3,.4, 1.0,.3,0,.2,0, 0,.2,0,0,.6,3.9,.5,0],
    [2.0,0,0,.6,9,7,3,.3,.8, 0,0,0, .4,.6,1.5,1.0,.5,.3,.2, .8,2.7,.5,.4,3.5, .5,0,.2,0,0,.4,.3,0],
    [2.5,.1,0,1.1,13,11,5,.9,1.2, 0,.1,.2, .6,.9,4.0,3.0,1.2,.4,.3, .6,.2,0,0,.3, .2,0,0,.2,0,.3,.4,.2],
    [4.9,.2,0,1.3,10,8,4,.6,1.0, 0,0,.3, .3,.5,2.0,1.5,.6,.3,.6, .5,.4,.8,5.0,.6, .3,0,0,.3,.2,0,.3,0],
    [1.6,0,0,.8,5,9,6,1.1,.7, .1,0,0, .5,.8,5.5,4.0,1.5,.5,.4, .6,0,.3,0,.2, 0,.3,0,0,.4,.8,.3,0],
    [2.8,.1,.1,1.9,14,10,5.5,.8,1.5, 0,0,.2, .4,.6,1.8,1.2,.5,.3,.2, .7,.3,.2,0,0, .3,.2,0,.4,0,.2,.5,.3],
    [2.2,.2,0,.5,8,6,3,.4,.6, 0,0,0, .2,.3,.9,.6,.3,.2,.4, .3,0,.2,.3,0, 0,.2,.5,0,.3,0,0,.2],
    [3.0,0,0,1.4,12,11,4,.5,1.1, 0,.1,.3, .8,1.0,6.5,3.5,1.0,.5,.3, .6,.5,2.5,.4,.2, .3,0,.2,0,0,.4,1.3,0],
    [2.4,.1,0,1.0,10,8,3.5,.6,.9, 0,0,0, .3,.4,1.2,.9,.5,.2,.3, .4,0,0,.3,0, .2,0,0,.3,.2,.3,0,.2],
    [1.9,.2,.1,.7,9,10,4,.3,1.0, 0,0,.2, .5,.7,2.5,1.6,.7,.4,.2, .6,.2,.3,0,.4, 0,.3,0,0,.2,.5,.3,0],
    [3.6,.1,0,1.6,15,13,6,1.2,1.8, .1,0,0, .4,.3,1.0,.7,.4,.3,.5, .8,.2,0,.2,0, .3,0,.3,0,.4,.2,0,.3],
    [2.1,0,0,.9,11,7,3,.5,.8, 0,0,.3, .6,1.2,5.0,3.0,1.0,.4,.3, .5,0,.2,0,.3, 0,.2,0,.4,0,.3,.2,0],
    [2.6,.2,.1,1.7,20.4,14,9,1.8,2.0, 0,.1,0, .3,.5,1.5,1.0,.5,.2,.4, .6,.3,0,.2,0, 0,.3,0,0,.3,.6,.4,0],
    [1.0,0,0,.4,6,1.2,2,.3,.5, 0,0,0, .2,.3,.8,.5,.3,.2,0, .3,0,.2,0,0, .2,0,.3,0,0,.2,0,.2],
    [2.9,.1,0,1.2,10,9,5,.7,1.3, 0,0,.2, .5,.8,3.5,2.5,1.0,.5,.2, .5,.2,0,.3,0, .2,0,0,.3,.2,0,.4,0],
    [2.3,.2,0,1.1,13,12,6,.9,1.4, 0,0,.3, 1.2,2.0,10.5,5.5,2.0,.6,.4, .7,0,.3,0,.2, 0,.3,0,0,.3,.4,.2,0],
    [2.0,0,.1,.8,9,7,4,.4,.9, .1,0,0, .3,.4,1.5,1.0,.5,.3,.2, .4,.3,0,0,.2, 0,0,.4,0,.2,.3,0,.3],
    [3.2,.1,0,1.5,12,8,3,.6,1.2, 0,0,.2, .4,.6,2.0,1.3,.6,.3,.4, .5,0,.2,.4,0, .2,0,0,.2,0,.4,.3,0],
    [2.5,.2,.1,2.2,19,15,8,3.6,2.8, .2,0,.4, 1.0,1.5,9.3,4.0,1.5,.5,.3, .8,.2,.3,0,.2, 0,.4,0,0,.2,.3,.5,0],
    [1.7,0,0,.6,8,10,4,.5,.7, 0,0,0, .3,.5,1.0,.7,.4,.2,.3, .4,0,0,.2,0, .3,0,0,.2,0,.3,.2,0],
    [2.8,.1,0,1.3,11,9,5,.8,1.1, 0,.1,.2, .5,.8,3.0,2.0,.9,.4,.2, .5,.2,.3,0,0, .3,0,.2,0,.4,.5,0,.2],
    [2.4,.2,0,1.0,10,8,3,.4,1.0, 0,0,0, .3,.4,1.2,.8,.4,.2,.3, .4,0,.2,0,.3, 0,.2,0,0,.3,.2,.3,0],
    [3.0,0,.1,1.4,14,11,6,1.0,1.6, 0,0,.3, .6,1.0,4.5,2.8,1.2,.5,.3, .6,.3,0,.3,0, .2,0,0,.4,0,.3,.2,.2],
    [2.2,.1,0,1.2,15,21.9,8,1.5,1.7, 0,0,.2, .4,.5,1.8,1.2,.6,.3,.2, .5,0,.3,0,0, .3,.5,.7,3.3,.4,.2,0,.3],
    [2.6,.2,0,.9,3.5,6,4,.8,.9, .1,0,0, .4,.6,2.0,1.5,.7,.3,.4, .5,.2,0,.3,.2, 0,.3,0,0,.2,.3,.4,0],
    [2.0,0,0,.7,7,5,2.5,.3,.6, 0,0,.3, .3,.4,1.5,1.2,.6,.3,.2, .4,0,.2,0,0, .2,0,.3,0,.2,0,.3,0],
    [3.1,.1,.1,1.6,16,13,7,1.2,1.9, 0,0,.2, .5,.7,2.8,2.0,.8,.4,.3, .6,.2,0,.2,.3, 0,.2,0,.3,0,.4,.3,.2],
    [2.3,.2,0,.8,9,7,3.5,.5,.8, 0,0,0, .3,.5,1.2,.9,.5,.2,.3, .4,0,.2,0,.2, 0,0,.3,0,.2,.2,0,.3],
    [1.4,0,0,.5,6,8,5,.9,.6, 0,.1,.2, .4,.6,2.5,1.8,.7,.3,.2, .5,.3,0,0,.2, .3,0,0,.2,.3,.8,.5,0],
    [2.7,.1,0,1.1,12,10,4,.6,1.2, 0,0,.3, .5,.7,2.2,1.5,.6,.3,.4, .5,0,.3,0,0, .2,.3,0,0,.3,.4,.2,0],
    [1.9,.2,0,.6,8,3,.5,.2,.4, 0,0,0, .6,2.5,14.2,8.3,2.6,1.0,.3, .5,.2,0,.3,0, 0,.2,0,.3,0,.2,.3,0],
]

# ---------------- figure ----------------
W, H = 740, 700
TOFF = 45  # temperatures share the precipitation axis: axis value = T + 45


def fx(x):
    return x / W


def fy(y):
    return 1 - y / H


fig = plt.figure(figsize=(W / 100, H / 100), dpi=100)
fig.patch.set_facecolor('white')
ax = fig.add_axes([fx(50), fy(600), 640 / W, 600 / H])
ax.set_xlim(12, 204)
ax.set_ylim(-55 / 7, 545 / 7)
ax.set_xticks([])
ax.set_yticks([])
ax.spines['top'].set_visible(False)
for s in ['left', 'right', 'bottom']:
    ax.spines[s].set_linewidth(1.6)
    ax.spines[s].set_color('black')
    ax.spines[s].set_zorder(10)

GRID = '#c0c0c0'
for c in range(0, 80, 5):
    if c == TOFF:
        ax.axhline(c, color='#8c8c8c', lw=2.4, zorder=1)
    elif (c - TOFF) % 10 == 0:
        ax.axhline(c, color=GRID, lw=2.0, zorder=1)
    else:
        ax.axhline(c, color=GRID, lw=1.0, zorder=1)
for d in day_hours:
    ax.axvline(d, color=GRID, lw=1.3, zorder=1)

FS = 7.3
ytr = ax.get_yaxis_transform()
for c in range(0, 80, 5):
    ax.text(-30 / 640, c, str(c - TOFF), transform=ytr, ha='left', va='center', fontsize=FS, clip_on=False)
    ax.text(660 / 640, c, str(c), transform=ytr, ha='left', va='center', fontsize=FS, clip_on=False)

xtr = ax.get_xaxis_transform()
for d, lab in zip(day_hours, day_labels):
    ax.text(d + 2, -3 / 600, lab, transform=xtr, rotation=90, ha='center', va='top', fontsize=FS, clip_on=False)

# members
mk = dict(lw=0.8, marker='+', ms=3, mew=0.6, zorder=3)
for i, vals in enumerate(t850_members):
    ax.plot(hours_temp[:len(vals)], [v + TOFF for v in vals], color=member_colors[i], **mk)
for i, vals in enumerate(t500_members):
    ax.plot(hours_temp[:len(vals)], [v + TOFF for v in vals], color=member_colors[i], **mk)
for i, vals in enumerate(rain_members):
    ax.plot(hours_rain[:len(vals)], vals, color=member_colors[i], **mk)

# control and mean
ax.plot(hours_temp, [v + TOFF for v in t850_ctrl], color='black', lw=3.0, zorder=5, solid_joinstyle='miter')
ax.plot(hours_temp, [v + TOFF for v in t500_ctrl], color='black', lw=3.0, zorder=5, solid_joinstyle='miter')
ax.plot(hours_rain, rain_ctrl, color='black', lw=3.0, zorder=5, solid_joinstyle='miter')
ax.plot(hours_temp, [v + TOFF for v in t850_mean], color='#ff0000', lw=3.8, zorder=6)
ax.plot(hours_temp, [v + TOFF for v in t500_mean], color='#ff0000', lw=3.8, zorder=6)
ax.plot(hours_rain, rain_mean, color='#ff0000', lw=3.8, zorder=6)

# panel labels
ax.text(15, (545 - 121) / 7, 'Temp. 850hPa', fontsize=FS, ha='left', va='center', zorder=8)
ax.text(15, (545 - 305) / 7, 'Temp. 500hPa', fontsize=FS, ha='left', va='center', zorder=8)
ax.text(14.7, (545 - 494) / 7, 'Précipitation', fontsize=FS, ha='left', va='center', zorder=8)

# units
fig.text(fx(20), fy(606.5), '(°C)', fontsize=FS, ha='left', va='center')
fig.text(fx(710), fy(606.5), '(mm)', fontsize=FS, ha='left', va='center')

# legend lines
fig.add_artist(Line2D([fx(35), fx(65)], [fy(639), fy(639)], color='#ff0000', lw=3.8))
fig.text(fx(75), fy(639), 'Moyenne des scénarios', fontsize=FS, ha='left', va='center')
fig.add_artist(Line2D([fx(225), fx(255)], [fy(639), fy(639)], color='black', lw=3.4))
fig.text(fx(265), fy(639), 'Contrôle/Det', fontsize=FS, ha='left', va='center')
fig.text(fx(370), fy(652), '50 Perts.', fontsize=FS, ha='left', va='center')

# member colour boxes
for k in range(25):
    x0 = 430 + k * 10.96
    for row in range(2):
        idx = k + 25 * row
        y0 = 645.3 + row * 6.2
        fig.add_artist(Rectangle((fx(x0), fy(y0 + 6.2)), 10.2 / W, 6.2 / H,
                                 facecolor=member_colors[idx], edgecolor='none'))
    fig.text(fx(x0 + 5.1), fy(639), '%02d' % (k + 1), fontsize=5.4, fontweight='bold',
             ha='center', va='center')
    fig.text(fx(x0 + 5.1), fy(663), '%02d' % (k + 26), fontsize=5.4, fontweight='bold',
             ha='center', va='center')

# title box
fig.add_artist(Rectangle((fx(20), fy(699.3)), 420 / W, 31.6 / H, facecolor='none',
                         edgecolor='black', lw=1.5))
fig.text(fx(30), fy(677.5), 'Diagramme ensembles ECMWF/CEP 0.25° sur 192h : 45.4N 11.9E',
         fontsize=8.3, fontweight='bold', ha='left', va='center')
fig.text(fx(30), fy(691.5), 'Températures 850hPa et 500hPa (°C) , précipitations (mm)',
         fontsize=FS, ha='left', va='center')
fig.text(fx(449), fy(675.5), 'Ensemble ECMWF/CEP du 01/06/2026 - 12Z', fontsize=FS, ha='left', va='center')
fig.text(fx(449), fy(692), 'Copyright 2026 Meteociel.fr - ECMWF', fontsize=8.2, fontweight='bold',
         ha='left', va='center')

fig.savefig('out.png', dpi=100, facecolor='white')
